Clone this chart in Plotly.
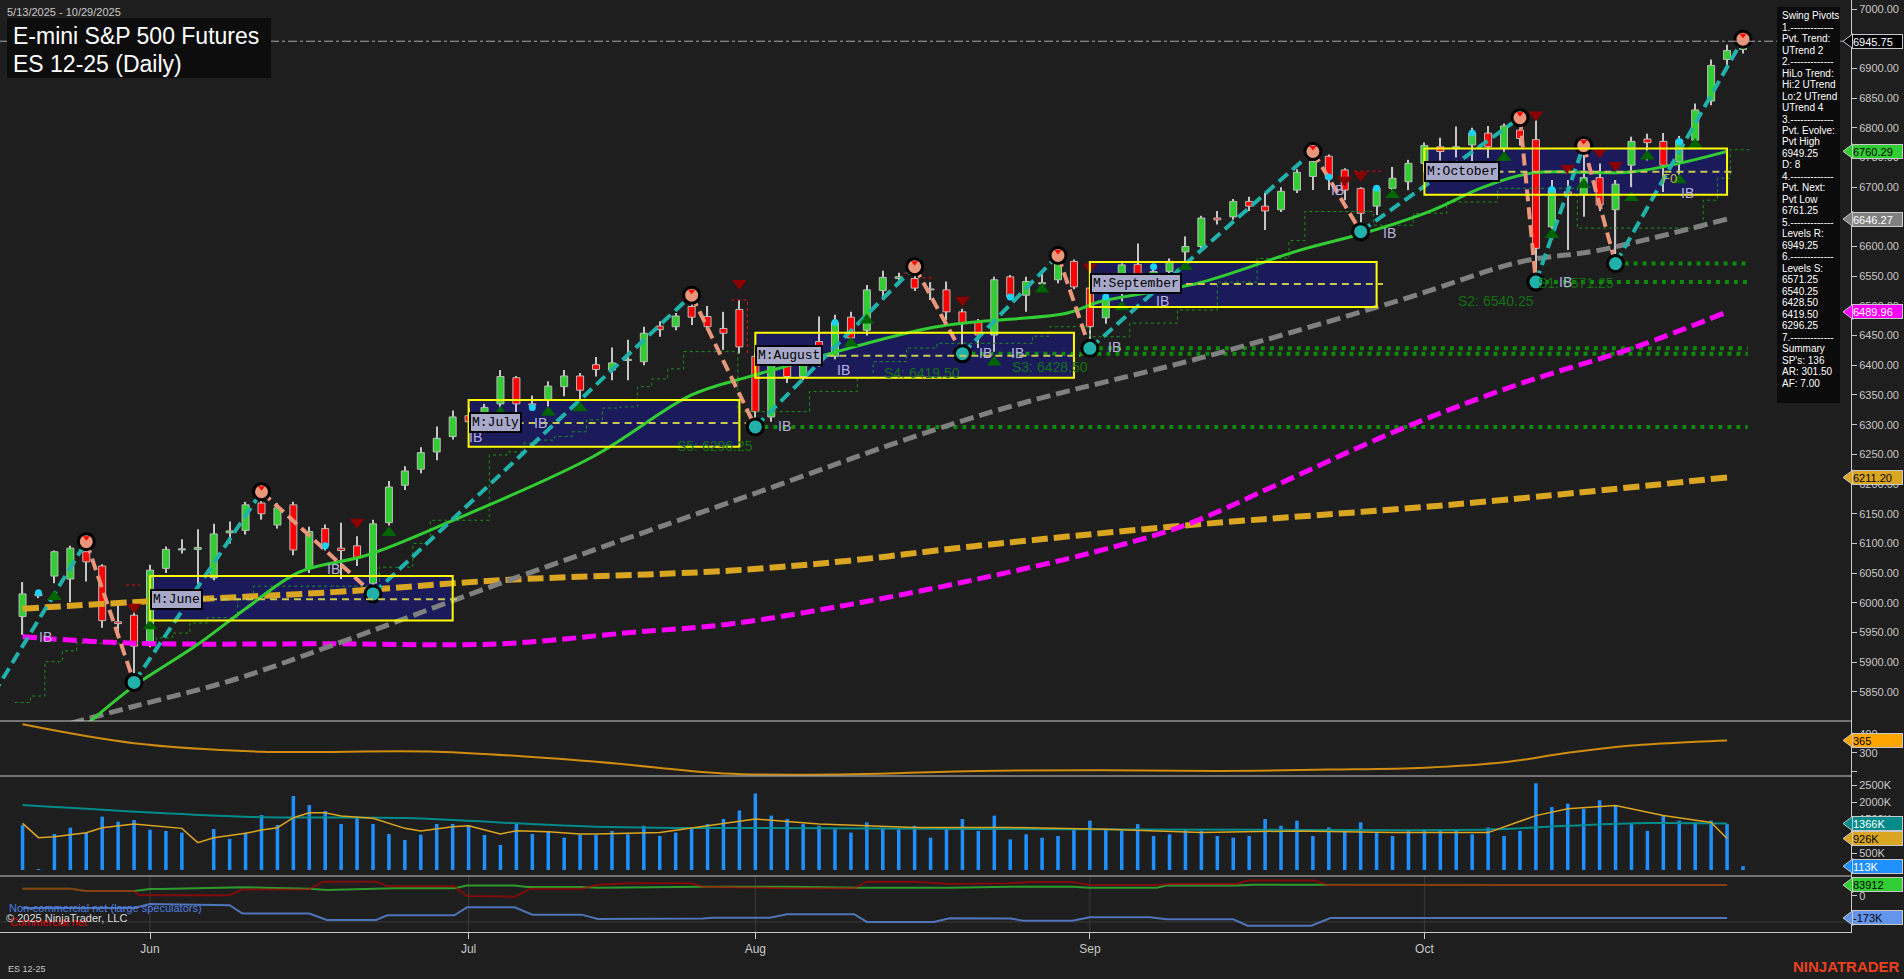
import plotly.graph_objects as go

W, H = 1904, 979
AXIS_X = 1851
PANELS = {"price": (0, 721), "rng": (721, 776), "vol": (776, 876), "cot": (876, 932)}
X_RANGE = [-1.416, 114.78]
RANGES = {"price": [5800.96, 7015.16], "rng": [178.5, 466.5], "vol": [-176.5, 2764.7], "cot": [-282.4, 154.0]}
AXREF = {"price": "y", "rng": "y2", "vol": "y3", "cot": "y4"}
FONT = "Arial, Liberation Sans, sans-serif"
MONO = "Courier New, Liberation Mono, monospace"
BG = "#1e1e1e"
AXC = "#c8c8c8"

# ------------------------------------------------------------------ DATA
month_ticks = [8, 28, 46, 67, 88]
month_labels = ["Jun", "Jul", "Aug", "Sep", "Oct"]

opens = [5977, 6015, 6045, 6040, 6086, 6062, 5968, 5979, 5935, 6058,
         6089, 6090, 6042, 6118, 6122, 6168, 6131, 6165, 6058, 6125,
         6092, 6096, 6033, 6135, 6198, 6225, 6254, 6280, 6315, 6306,
         6335, 6379, 6335, 6341, 6364, 6382, 6401, 6392, 6408, 6406,
         6466, 6465, 6499, 6482, 6462, 6494, 6415, 6313, 6404, 6381,
         6440, 6415, 6481, 6459, 6526, 6546, 6546, 6528, 6527, 6490,
         6472, 6451, 6549, 6518, 6537, 6544, 6575, 6530, 6480, 6540,
         6570, 6548, 6558, 6591, 6600, 6648, 6650, 6676, 6668, 6662,
         6695, 6718, 6752, 6729, 6698, 6668, 6698, 6709, 6740, 6768,
         6765, 6771, 6791, 6765, 6796, 6780, 6633, 6692, 6687, 6716,
         6662, 6737, 6781, 6777, 6743, 6779, 6845, 6915, 6932]
highs = [6035, 6020, 6088, 6096, 6103, 6065, 5995, 5985, 6064, 6095,
         6107, 6124, 6133, 6137, 6170, 6187, 6168, 6170, 6128, 6132,
         6135, 6112, 6140, 6205, 6230, 6262, 6297, 6324, 6328, 6335,
         6392, 6382, 6349, 6373, 6392, 6387, 6414, 6430, 6443, 6465,
         6474, 6488, 6518, 6500, 6490, 6510, 6420, 6410, 6415, 6428,
         6482, 6485, 6490, 6535, 6559, 6556, 6566, 6540, 6541, 6495,
         6478, 6549, 6552, 6549, 6560, 6585, 6578, 6535, 6518, 6572,
         6605, 6570, 6580, 6617, 6652, 6660, 6680, 6684, 6690, 6700,
         6730, 6760, 6755, 6732, 6700, 6702, 6734, 6746, 6775, 6783,
         6802, 6800, 6803, 6807, 6817, 6813, 6712, 6712, 6770, 6740,
         6712, 6785, 6790, 6791, 6786, 6841, 6915, 6940, 6949.25]
lows = [5946, 6008, 6033, 6001, 6036, 5958, 5950, 5866, 5925, 6050,
        6083, 6030, 6038, 6100, 6115, 6140, 6125, 6080, 6050, 6088,
        6040, 6062, 6015, 6130, 6190, 6218, 6240, 6275, 6290, 6298,
        6325, 6316, 6325, 6330, 6348, 6341, 6381, 6375, 6375, 6400,
        6448, 6459, 6468, 6459, 6426, 6420, 6296.25, 6305, 6370, 6375,
        6398, 6410, 6440, 6450, 6510, 6535, 6525, 6510, 6476, 6419.5,
        6429, 6423, 6510, 6490, 6530, 6538, 6528, 6428.5, 6470, 6505,
        6535, 6540, 6548, 6575, 6594, 6637, 6645, 6660, 6628, 6658,
        6690, 6695, 6695, 6678, 6625, 6653, 6690, 6695, 6725, 6745,
        6750, 6740, 6749, 6745, 6770, 6540.25, 6611, 6594, 6650, 6660,
        6571.25, 6700, 6745, 6692, 6720, 6775, 6838, 6905, 6925]
closes = [6015, 6012, 6086, 6092, 6069, 5970, 5965, 5927, 6055, 6090,
          6091, 6093, 6116, 6121, 6165, 6150, 6160, 6089, 6120, 6096,
          6088, 6076, 6133, 6195, 6222, 6253, 6277, 6313, 6305, 6329,
          6381, 6335, 6333, 6365, 6382, 6358, 6393, 6404, 6410, 6454,
          6460, 6483, 6481, 6465, 6454, 6431, 6322, 6403, 6381, 6420,
          6425, 6472, 6446, 6527, 6548, 6549, 6530, 6527, 6490, 6471,
          6451, 6544, 6515, 6541, 6539, 6572, 6532, 6465, 6512, 6569,
          6545, 6558, 6575, 6600, 6648, 6645, 6676, 6668, 6660, 6693,
          6725, 6743, 6715, 6695, 6656, 6698, 6715, 6740, 6770, 6760,
          6768, 6791, 6768, 6803, 6782, 6597, 6696, 6686, 6716, 6670,
          6705, 6777, 6775, 6737, 6779, 6830, 6905, 6930, 6945.75]
bar_idx = list(range(len(closes)))

volume_k = [1324, 20, 1059, 1245, 1108, 1568, 1421, 1470, 1186, 1147,
            1098, 0, 1206, 912, 1098, 1618, 1324, 2176, 1912, 1735,
            1353, 1568, 1353, 1059, 882, 1039, 1353, 1353, 1324, 1030,
            735, 1382, 1059, 1147, 951, 1030, 1030, 1150, 1050, 1300,
            1000, 1100, 1250, 1350, 1500, 1750, 2250, 1600, 1500, 1350,
            1300, 1200, 1100, 1400, 1250, 1200, 1300, 950, 1250, 1500,
            1150, 1600, 900, 1050, 950, 1000, 1200, 1450, 1200, 1150,
            1350, 1000, 1050, 1200, 1150, 1000, 950, 1000, 1500, 1300,
            1450, 1000, 1250, 1150, 1400, 1100, 1000, 1150, 1200, 1150,
            1200, 1050, 1250, 1000, 1150, 2550, 1850, 1950, 1800, 2050,
            1900, 1350, 1150, 1600, 1450, 1400, 1450, 1350, 113]

# moving-average style lines (bar index, value)
fast_ma_idx = [4.0, 6.9, 8, 11.1, 14, 17.4, 21.6, 26.6, 35.8, 42, 45.5, 47.5, 57.2, 65.6, 67.6, 73.9, 80.2, 84.4, 88.5, 91.7, 94.8, 101.1, 107]
fast_ma_val = [5795, 5858, 5878, 5932, 5990, 6052, 6080, 6134, 6246, 6350, 6380, 6395, 6464, 6488, 6507, 6539, 6594, 6624, 6661, 6700, 6724, 6726, 6760.29]
mid_ma_idx = [3.0, 6.9, 13.2, 19.5, 30, 45, 57.2, 63.4, 73.9, 86.5, 94, 99, 107]
mid_ma_val = [5797, 5825, 5870, 5929, 6033, 6175, 6291, 6341, 6412, 6510, 6574, 6594, 6646.27]
slow_ma_idx = [0, 6.9, 19.5, 30, 38.2, 44.3, 51.9, 59.6, 67.2, 72.9, 78.6, 86.2, 93.8, 101.4, 107]
slow_ma_val = [5943, 5932, 5931, 5931, 5950, 5964, 5997, 6038, 6085, 6130, 6197, 6289, 6367, 6432, 6489.96]
long_ma_idx = [0, 6.9, 19.5, 30, 44.3, 51.9, 59.6, 72.9, 90, 107]
long_ma_val = [5990, 6001, 6018, 6038, 6054, 6071, 6095, 6130, 6166, 6211.20]

# trailing stops
stop_idx = [-0.5, 0.5, 1.4, 2.5, 3.4, 8.4, 9.4, 10.5, 11.6, 13.5, 14.5, 22.4, 24.5, 25.6, 29.3, 30.4, 31.4, 32.4,
            33.4, 34.5, 35.4, 36.4, 37.5, 38.6, 39.5, 40.5, 41.5, 44.9, 49.4, 52.4, 53.4, 55.5, 57.4, 63.4, 64.5,
            67, 69.5, 72.5, 75, 77.5, 79.5, 80.5, 84.8, 87.3, 89.4, 92.6, 97.6, 105.5, 106.4, 107.2, 108.4]
stop_val = [5832, 5843, 5901, 5919, 5932, 5941, 5949, 5966, 5975, 6005, 6028, 6060, 6100, 6139, 6249, 6254, 6269, 6274,
            6280, 6288, 6308, 6328, 6330, 6364, 6377, 6394, 6423, 6322, 6356, 6378, 6406, 6429, 6437, 6449, 6465,
            6448, 6471, 6493, 6540, 6580, 6610, 6659, 6636, 6656, 6675, 6698, 6631, 6678, 6715, 6763, 6763]
short_stop_idx = [6.5, 7.4, None, 44.5, 45.5, 45.5, None, 55.3, 56.3, 56.3, 57.3, None, 83.6, 85.4]
short_stop_val = [6030, 6030, None, 6510, 6510, 6420, None, 6555, 6555, 6547, 6547, None, 6727, 6727]

# swing pivots
swing_high_idx = [4, 15, 42, 56, 65, 81, 94, 98, 108]
swing_low_idx = [7, 22, 46, 59, 67, 84, 95, 100]
prior_low_idx, prior_low_val = -3, 5795

# support levels
support_levels = [6571.25, 6540.25, 6428.50, 6419.50, 6296.25]
support_start = [100, 95, 67, 59, 46]
level_end = 108.3

# monthly boxes
box_names = ["M:June", "M:July", "M:August", "M:September", "M:October"]
box_start = [8, 28, 46, 67, 88]
box_end = [27, 45, 66, 85, 107]
box_high = [6045, 6341.5, 6455, 6574, 6765]
box_low = [5970, 6263, 6379, 6498, 6687]
box_mid = [6006, 6303, 6416, 6537, 6726]

# signal marks
up_tri_idx = [2, 8, 23, 30, 33, 35, 52, 53, 61, 64, 69, 73, 86, 93, 96, 98, 101, 102, 104, 105]
up_tri_val = [6010, 5961, 6118, 6321, 6321, 6328, 6437, 6476, 6405, 6528, 6498, 6566, 6687, 6750, 6620, 6704, 6682, 6752, 6712, 6772]
down_tri_idx = [7, 21, 45, 59, 67, 83, 84, 95, 97, 99, 100]
down_tri_val = [5993, 6136, 6538, 6510, 6566, 6712, 6720, 6822, 6732, 6759, 6737]
ib_idx = [0.9, 19, 27.9, 32, 47.3, 51, 59.9, 61.9, 68, 71, 82, 85.3, 96.3, 104]
ib_val = [5943, 6057, 6280, 6302, 6297, 6392, 6420, 6421, 6430, 6509, 6695, 6623, 6541, 6690]
cyan_idx = [1, 19, 32, 51, 62, 68, 71, 82, 85, 91, 96, 104]
cyan_val = [6017, 6096, 6329, 6472, 6515, 6515, 6566, 6717, 6698, 6791, 6696, 6777]

# range sub-panel
rng_idx = [0, 7, 15, 26, 36, 44, 52, 60, 68, 75, 82, 88, 93, 97, 101, 105, 107]
rng_val = [449, 350, 306, 306, 253, 192, 188, 205, 208, 205, 212, 222, 250, 300, 338, 358, 365]

# volume averages (K)
vol_slow_idx = [0, 14, 24, 36, 50, 65, 80, 92, 97, 102, 107]
vol_slow_val = [1912, 1568, 1530, 1274, 1230, 1200, 1180, 1190, 1300, 1380, 1366]
vol_fast_idx = [0, 1, 2, 4, 5, 7, 10, 11, 12, 14, 15, 16, 17, 18, 19, 20, 22, 24, 25, 27, 28, 30, 31, 33, 35, 36,
                40, 46, 50, 56, 62, 68, 74, 80, 86, 92, 95, 97, 100, 103, 106, 107]
vol_fast_val = [1373, 951, 980, 1098, 1245, 1353, 1225, 804, 951, 1078, 1176, 1245, 1539, 1686, 1686, 1588, 1520, 1225,
                1147, 1274, 1304, 1059, 1156, 1127, 1059, 1059, 1100, 1500, 1350, 1250, 1250, 1200, 1100, 1150, 1100,
                1100, 1600, 1800, 1900, 1600, 1400, 926]

# COT positioning (K contracts)
cot_large_idx = [0, 3, 4, 7, 8, 8.7, 13.8, 18, 19.1, 22.2, 23.3, 27.1, 27.9, 30.9, 31.7, 35.1, 36.1, 42.7, 48, 52.6,
                 58.2, 62, 65.9, 67, 71.2, 71.8, 76.2, 77.3, 81.1, 81.9, 107]
cot_large_val = [55, 55, 37, 37, 53, 53, 66, 55, 45, 51, 58, 58, 79, 79, 69, 69, 63, 71, 71, 63,
                 63, 71, 71, 63, 63, 79, 79, 86, 86, 83.912, 83.912]
cot_comm_idx = [0, 3, 4, 7, 7.3, 13, 13.8, 18, 18.9, 22.2, 22.9, 27.1, 27.9, 30.9, 31.9, 35.1, 36.1, 38.1, 42, 42.7,
                48, 52.2, 53, 56, 58.2, 62, 63.2, 65.9, 67, 71.2, 72, 76.2, 76.9, 81.1, 81.9, 107]
cot_comm_val = [55, 55, 37, 37, 4, 4, 48, 51, 110, 110, 74, 74, -2, -7, 55, 55, 86, 97, 97, 71,
                58, 58, 110, 110, 92, 97, 107, 107, 84, 84, 92, 92, 118, 118, 83.912, 83.912]
cot_spec_idx = [0, 7, 8, 13, 13.8, 18, 19.1, 22.2, 22.9, 27.1, 27.9, 30.9, 32, 35.1, 36.1, 42.7, 43.3, 46.9, 48,
                52.2, 53, 57.2, 58.2, 62, 62.8, 65.9, 67, 70.8, 71.8, 76, 76.9, 80.9, 82.1, 107]
cot_spec_val = [-95, -95, -64, -74, -139, -139, -188, -188, -152, -152, -90, -90, -147, -147, -181, -178, -171, -171,
                -144, -144, -204, -204, -175, -178, -194, -194, -167, -167, -183, -183, -233, -233, -173, -173]
cot_grid_level = -204

info_lines = ["Swing Pivots", "1.-------------", "Pvt. Trend:", "UTrend 2", "2.-------------", "HiLo Trend:",
              "Hi:2 UTrend", "Lo:2 UTrend", "UTrend 4", "3.-------------", "Pvt. Evolve:", "Pvt High", "6949.25",
              "D: 8", "4.-------------", "Pvt. Next:", "Pvt Low", "6761.25", "5.-------------", "Levels R:",
              "6949.25", "6.-------------", "Levels S:", "6571.25", "6540.25", "6428.50", "6419.50", "6296.25",
              "7.-------------", "Summary", "SP's: 136", "AR: 301.50", "AF: 7.00"]


# ------------------------------------------------------------------ helpers
def dom(name):
    t, b = PANELS[name]
    return [1 - b / H, 1 - t / H]


def ppu(name):
    t, b = PANELS[name]
    r = RANGES[name]
    return (b - t) / (r[1] - r[0])


def px(x):
    return x / W


def py(y):
    return 1 - y / H


fig = go.Figure()
shapes = []
ann = []

# monthly box fills (below everything)
for s, e, hi, lo in zip(box_start, box_end, box_high, box_low):
    shapes.append(dict(type="rect", xref="x", yref="y", x0=s, x1=e, y0=lo, y1=hi, layer="below",
                       fillcolor="#1b1b5c", line=dict(width=0)))

# candles: wicks then bodies
fig.add_trace(go.Bar(x=bar_idx, y=[h - l for h, l in zip(highs, lows)], base=lows, width=0.075,
                     marker=dict(color="#c4c4c4", line=dict(width=0)), hoverinfo="skip"))
body_base = [min(o, c) for o, c in zip(opens, closes)]
body_h = [max(abs(c - o), 1.5) for o, c in zip(opens, closes)]
body_col = ["#32cd32" if c >= o else "#ff0000" for o, c in zip(opens, closes)]
fig.add_trace(go.Bar(x=bar_idx, y=body_h, base=body_base, width=0.44,
                     marker=dict(color=body_col, line=dict(color="#bcbcbc", width=1)), hoverinfo="skip"))

# trailing stops
fig.add_trace(go.Scatter(x=stop_idx, y=stop_val, mode="lines", line=dict(color="#1f8f1f", width=1, dash="3px,3px", shape="hv"),
                         hoverinfo="skip"))
fig.add_trace(go.Scatter(x=short_stop_idx, y=short_stop_val, mode="lines", connectgaps=False,
                         line=dict(color="#e01010", width=1, dash="3px,3px"), hoverinfo="skip"))

# support levels
for k, (lvl, st) in enumerate(zip(support_levels, support_start)):
    fig.add_trace(go.Scatter(x=[st, level_end], y=[lvl, lvl], mode="lines",
                             line=dict(color="#0e8a0e", width=4, dash="4px,5px"), hoverinfo="skip"))
    ann.append(dict(x=st, y=lvl, xref="x", yref="y", xanchor="right", yanchor="middle", yshift=-19,
                    text=f"S{k + 1}: {lvl:.2f}", showarrow=False, font=dict(size=14, color="#137013", family=FONT)))

# moving averages
fig.add_trace(go.Scatter(x=long_ma_idx, y=long_ma_val, mode="lines", line=dict(color="#daa520", width=6, dash="16px,6px", shape="spline"), hoverinfo="skip"))
fig.add_trace(go.Scatter(x=slow_ma_idx, y=slow_ma_val, mode="lines", line=dict(color="#ff00ff", width=5, dash="14px,6px", shape="spline"), hoverinfo="skip"))
fig.add_trace(go.Scatter(x=mid_ma_idx, y=mid_ma_val, mode="lines", line=dict(color="#808080", width=5, dash="14px,6px", shape="spline"), hoverinfo="skip"))
fig.add_trace(go.Scatter(x=fast_ma_idx, y=fast_ma_val, mode="lines", line=dict(color="#32cd32", width=3, shape="spline"), hoverinfo="skip"))

# swing legs
pts = [(prior_low_idx, prior_low_val, "L")]
pts += [(i, highs[i], "H") for i in swing_high_idx]
pts += [(i, lows[i], "L") for i in swing_low_idx]
pts.sort()
ux, uy, dx, dy = [], [], [], []
for a, b in zip(pts[:-1], pts[1:]):
    if a[2] == "L":
        ux += [a[0], b[0], None]; uy += [a[1], b[1], None]
    else:
        dx += [a[0], b[0], None]; dy += [a[1], b[1], None]
fig.add_trace(go.Scatter(x=dx, y=dy, mode="lines", line=dict(color="#e9967a", width=4, dash="12px,6px"), hoverinfo="skip"))
fig.add_trace(go.Scatter(x=ux, y=uy, mode="lines", line=dict(color="#20b2aa", width=4, dash="12px,6px"), hoverinfo="skip"))

# signal triangles, dots
fig.add_trace(go.Scatter(x=up_tri_idx, y=up_tri_val, mode="markers", marker=dict(symbol="triangle-up", size=13, color="#006400"), hoverinfo="skip"))
fig.add_trace(go.Scatter(x=down_tri_idx, y=down_tri_val, mode="markers", marker=dict(symbol="triangle-down", size=13, color="#8b0000"), hoverinfo="skip"))
fig.add_trace(go.Scatter(x=cyan_idx, y=cyan_val, mode="markers", marker=dict(symbol="circle", size=7, color="#1ad2f5"), hoverinfo="skip"))

# pivot circles
tri_lift = 4 / ppu("price")
fig.add_trace(go.Scatter(x=swing_high_idx, y=[highs[i] for i in swing_high_idx], mode="markers",
                         marker=dict(size=16, color="#e9967a", line=dict(color="#000000", width=3)), hoverinfo="skip"))
fig.add_trace(go.Scatter(x=swing_high_idx, y=[highs[i] + tri_lift for i in swing_high_idx], mode="markers",
                         marker=dict(symbol="triangle-down", size=6, color="#ff0000"), hoverinfo="skip"))
fig.add_trace(go.Scatter(x=swing_low_idx, y=[lows[i] for i in swing_low_idx], mode="markers",
                         marker=dict(size=16, color="#20b2aa", line=dict(color="#000000", width=3)), hoverinfo="skip"))

# IB labels
for xi, yv in zip(ib_idx, ib_val):
    ann.append(dict(x=xi, y=yv, xref="x", yref="y", text="IB", showarrow=False, xanchor="left",
                    font=dict(size=14, color="#b8b0e0", family=FONT)))
ann.append(dict(x=103.4, y=6715, xref="x", yref="y", text="F0", showarrow=False,
                font=dict(size=13, color="#c8b43c", family=FONT)))

# box borders, mid lines, labels
for name, s, e, hi, lo, mid in zip(box_names, box_start, box_end, box_high, box_low, box_mid):
    shapes.append(dict(type="rect", xref="x", yref="y", x0=s, x1=e, y0=lo, y1=hi, layer="above",
                       fillcolor="rgba(0,0,0,0)", line=dict(color="#ffff00", width=2)))
    shapes.append(dict(type="line", xref="x", yref="y", x0=s, x1=e + 0.4, y0=mid, y1=mid, layer="above",
                       line=dict(color="#c8c850", width=2, dash="7px,5px")))
    ann.append(dict(x=s, y=mid, xref="x", yref="y", xanchor="left", yanchor="middle", text=name, showarrow=False,
                    bgcolor="#a8a8c8", bordercolor="#000000", borderwidth=2, borderpad=1,
                    font=dict(size=13, color="#000000", family=MONO)))

# last price dash-dot line
shapes.append(dict(type="line", xref="paper", yref="y", x0=0, x1=px(AXIS_X), y0=closes[-1], y1=closes[-1],
                   line=dict(color="#a8a8a8", width=1, dash="dashdot")))

# ---- range panel
fig.add_trace(go.Scatter(x=rng_idx, y=rng_val, mode="lines", line=dict(color="#d08c10", width=2, shape="spline"),
                         yaxis="y2", hoverinfo="skip"))
# ---- volume panel
fig.add_trace(go.Bar(x=bar_idx, y=volume_k, width=0.22, marker=dict(color="#1e90ff", line=dict(width=0)),
                     yaxis="y3", hoverinfo="skip"))
fig.add_trace(go.Scatter(x=vol_slow_idx, y=vol_slow_val, mode="lines", line=dict(color="#008b8b", width=2, shape="spline"),
                         yaxis="y3", hoverinfo="skip"))
fig.add_trace(go.Scatter(x=vol_fast_idx, y=vol_fast_val, mode="lines", line=dict(color="#daa520", width=1.5),
                         yaxis="y3", hoverinfo="skip"))
# ---- COT panel
fig.add_trace(go.Scatter(x=cot_large_idx, y=cot_large_val, mode="lines", line=dict(color="#2e9a2e", width=2),
                         yaxis="y4", hoverinfo="skip"))
fig.add_trace(go.Scatter(x=cot_comm_idx, y=cot_comm_val, mode="lines", line=dict(color="#c00000", width=2),
                         opacity=0.6, yaxis="y4", hoverinfo="skip"))
fig.add_trace(go.Scatter(x=cot_spec_idx, y=cot_spec_val, mode="lines", line=dict(color="#4f74b8", width=2),
                         yaxis="y4", hoverinfo="skip"))
shapes.append(dict(type="line", xref="paper", yref="y4", x0=0, x1=px(AXIS_X), y0=cot_grid_level, y1=cot_grid_level,
                   layer="below", line=dict(color="#3a3a3a", width=1)))
for t in month_ticks:
    shapes.append(dict(type="line", xref="x", yref="paper", x0=t, x1=t, y0=py(PANELS["cot"][1]), y1=py(PANELS["cot"][0]),
                       layer="below", line=dict(color="#3a3a3a", width=1)))

# panel separators
for yy in (PANELS["rng"][0], PANELS["vol"][0], PANELS["cot"][0]):
    shapes.append(dict(type="line", xref="paper", yref="paper", x0=0, x1=px(AXIS_X), y0=py(yy), y1=py(yy),
                       line=dict(color=AXC, width=1)))

# title box and info panel
shapes.append(dict(type="rect", xref="paper", yref="paper", x0=px(7), x1=px(271), y0=py(78), y1=py(18),
                   fillcolor="#0d0d0d", line=dict(width=0)))
shapes.append(dict(type="rect", xref="paper", yref="paper", x0=px(1777), x1=px(1840), y0=py(403), y1=py(7),
                   fillcolor="#0b0b0b", line=dict(width=0)))
ann.append(dict(x=px(5), y=py(12), xref="paper", yref="paper", xanchor="left", yanchor="middle",
                text="5/13/2025 - 10/29/2025", showarrow=False, font=dict(size=11, color=AXC, family=FONT)))
ann.append(dict(x=px(11), y=py(36), xref="paper", yref="paper", xanchor="left", yanchor="middle",
                text="E-mini S&P 500 Futures", showarrow=False, font=dict(size=23, color="#ffffff", family=FONT)))
ann.append(dict(x=px(11), y=py(64), xref="paper", yref="paper", xanchor="left", yanchor="middle",
                text="ES 12-25 (Daily)", showarrow=False, font=dict(size=23, color="#ffffff", family=FONT)))
for k, line in enumerate(info_lines):
    ann.append(dict(x=px(1780), y=py(15.7 + k * 11.48), xref="paper", yref="paper", xanchor="left", yanchor="middle",
                    text=line, showarrow=False, font=dict(size=10, color="#ffffff", family=FONT)))

# bottom texts
ann.append(dict(x=px(7), y=py(908), xref="paper", yref="paper", xanchor="left", yanchor="middle",
                text="Non-commercial net (large speculators)", showarrow=False, font=dict(size=11, color="#4f7fe0", family=FONT)))
ann.append(dict(x=px(8), y=py(922), xref="paper", yref="paper", xanchor="left", yanchor="middle",
                text="Commercial net", showarrow=False, font=dict(size=11, color="#e00000", family=FONT)))
ann.append(dict(x=px(4), y=py(918), xref="paper", yref="paper", xanchor="left", yanchor="middle",
                text="© 2025 NinjaTrader, LLC", showarrow=False, font=dict(size=11, color="#dcdcdc", family=FONT)))
ann.append(dict(x=px(6), y=py(969), xref="paper", yref="paper", xanchor="left", yanchor="middle",
                text="ES 12-25", showarrow=False, font=dict(size=9, color=AXC, family=FONT)))
ann.append(dict(x=px(1902), y=py(966), xref="paper", yref="paper", xanchor="right", yanchor="middle",
                text="<b>NINJATRADER</b>", showarrow=False, font=dict(size=15, color="#e8421e", family=FONT)))


# axis value markers
def marker(value, panel, bg, fg, text):
    d = 7.5 / ppu(panel)
    yr = AXREF[panel]
    shapes.append(dict(type="path", xref="paper", yref=yr,
                       path=f"M {px(1843)},{value} L {px(1853)},{value + d} L {px(1853)},{value - d} Z",
                       fillcolor=bg, line=dict(color="#c8c8c8", width=1)))
    ann.append(dict(x=px(1852), y=value, xref="paper", yref=yr, xanchor="left", yanchor="middle", text=text,
                    showarrow=False, bgcolor=bg, bordercolor="#c8c8c8", borderwidth=1, borderpad=0,
                    width=49, height=13, align="left", font=dict(size=11, color=fg, family=FONT)))


marker(closes[-1], "price", "#000000", "#ffffff", f"{closes[-1]:.2f}")
marker(fast_ma_val[-1], "price", "#32cd32", "#000000", f"{fast_ma_val[-1]:.2f}")
marker(mid_ma_val[-1], "price", "#808080", "#ffffff", f"{mid_ma_val[-1]:.2f}")
marker(slow_ma_val[-1], "price", "#ff00ff", "#ffffff", f"{slow_ma_val[-1]:.2f}")
marker(long_ma_val[-1], "price", "#daa520", "#000000", f"{long_ma_val[-1]:.2f}")
marker(rng_val[-1], "rng", "#ffa500", "#000000", f"{rng_val[-1]:.0f}")
marker(vol_slow_val[-1], "vol", "#008b8b", "#ffffff", f"{vol_slow_val[-1]:.0f}K")
marker(vol_fast_val[-1], "vol", "#daa520", "#000000", f"{vol_fast_val[-1]:.0f}K")
marker(volume_k[-1], "vol", "#1e90ff", "#ffffff", f"{volume_k[-1]:.0f}K")
marker(cot_large_val[-1], "cot", "#32cd32", "#000000", f"{cot_large_val[-1] * 1000:.0f}")
marker(cot_spec_val[-1], "cot", "#6495ed", "#000000", f"{cot_spec_val[-1]:.0f}K")


def yax(panel, **kw):
    d = dict(domain=dom(panel), range=RANGES[panel], side="right", anchor="x", showgrid=False, zeroline=False,
             showline=True, linecolor=AXC, linewidth=1, ticks="outside", ticklen=5, tickcolor=AXC,
             tickfont=dict(size=11, color=AXC, family=FONT), fixedrange=True)
    d.update(kw)
    return d


price_ticks = list(range(5850, 7001, 50))
fig.update_layout(
    width=W, height=H, margin=dict(l=0, r=0, t=0, b=0), paper_bgcolor=BG, plot_bgcolor=BG,
    showlegend=False, barmode="overlay", hovermode=False,
    xaxis=dict(domain=[0, px(AXIS_X)], range=X_RANGE, anchor="y4", tickmode="array", tickvals=month_ticks,
               ticktext=month_labels, ticks="outside", ticklen=6, tickcolor=AXC,
               tickfont=dict(size=12, color=AXC, family=FONT), showline=True, linecolor=AXC, showgrid=False,
               zeroline=False, fixedrange=True),
    yaxis=yax("price", tickmode="array", tickvals=price_ticks, ticktext=[f"{v:.2f}" for v in price_ticks]),
    yaxis2=yax("rng", tickmode="array", tickvals=[200, 300, 400], ticktext=["", "300", "400"]),
    yaxis3=yax("vol", tickmode="array", tickvals=[500, 1000, 1500, 2000, 2500],
               ticktext=["500K", "1000K", "1500K", "2000K", "2500K"]),
    yaxis4=yax("cot", tickmode="array", tickvals=[0], ticktext=["0"]),
    shapes=shapes, annotations=ann,
)

fig.write_html("out.html", config={"displayModeBar": False},
               post_script="document.body.style.margin='0';document.body.style.overflow='hidden';")
